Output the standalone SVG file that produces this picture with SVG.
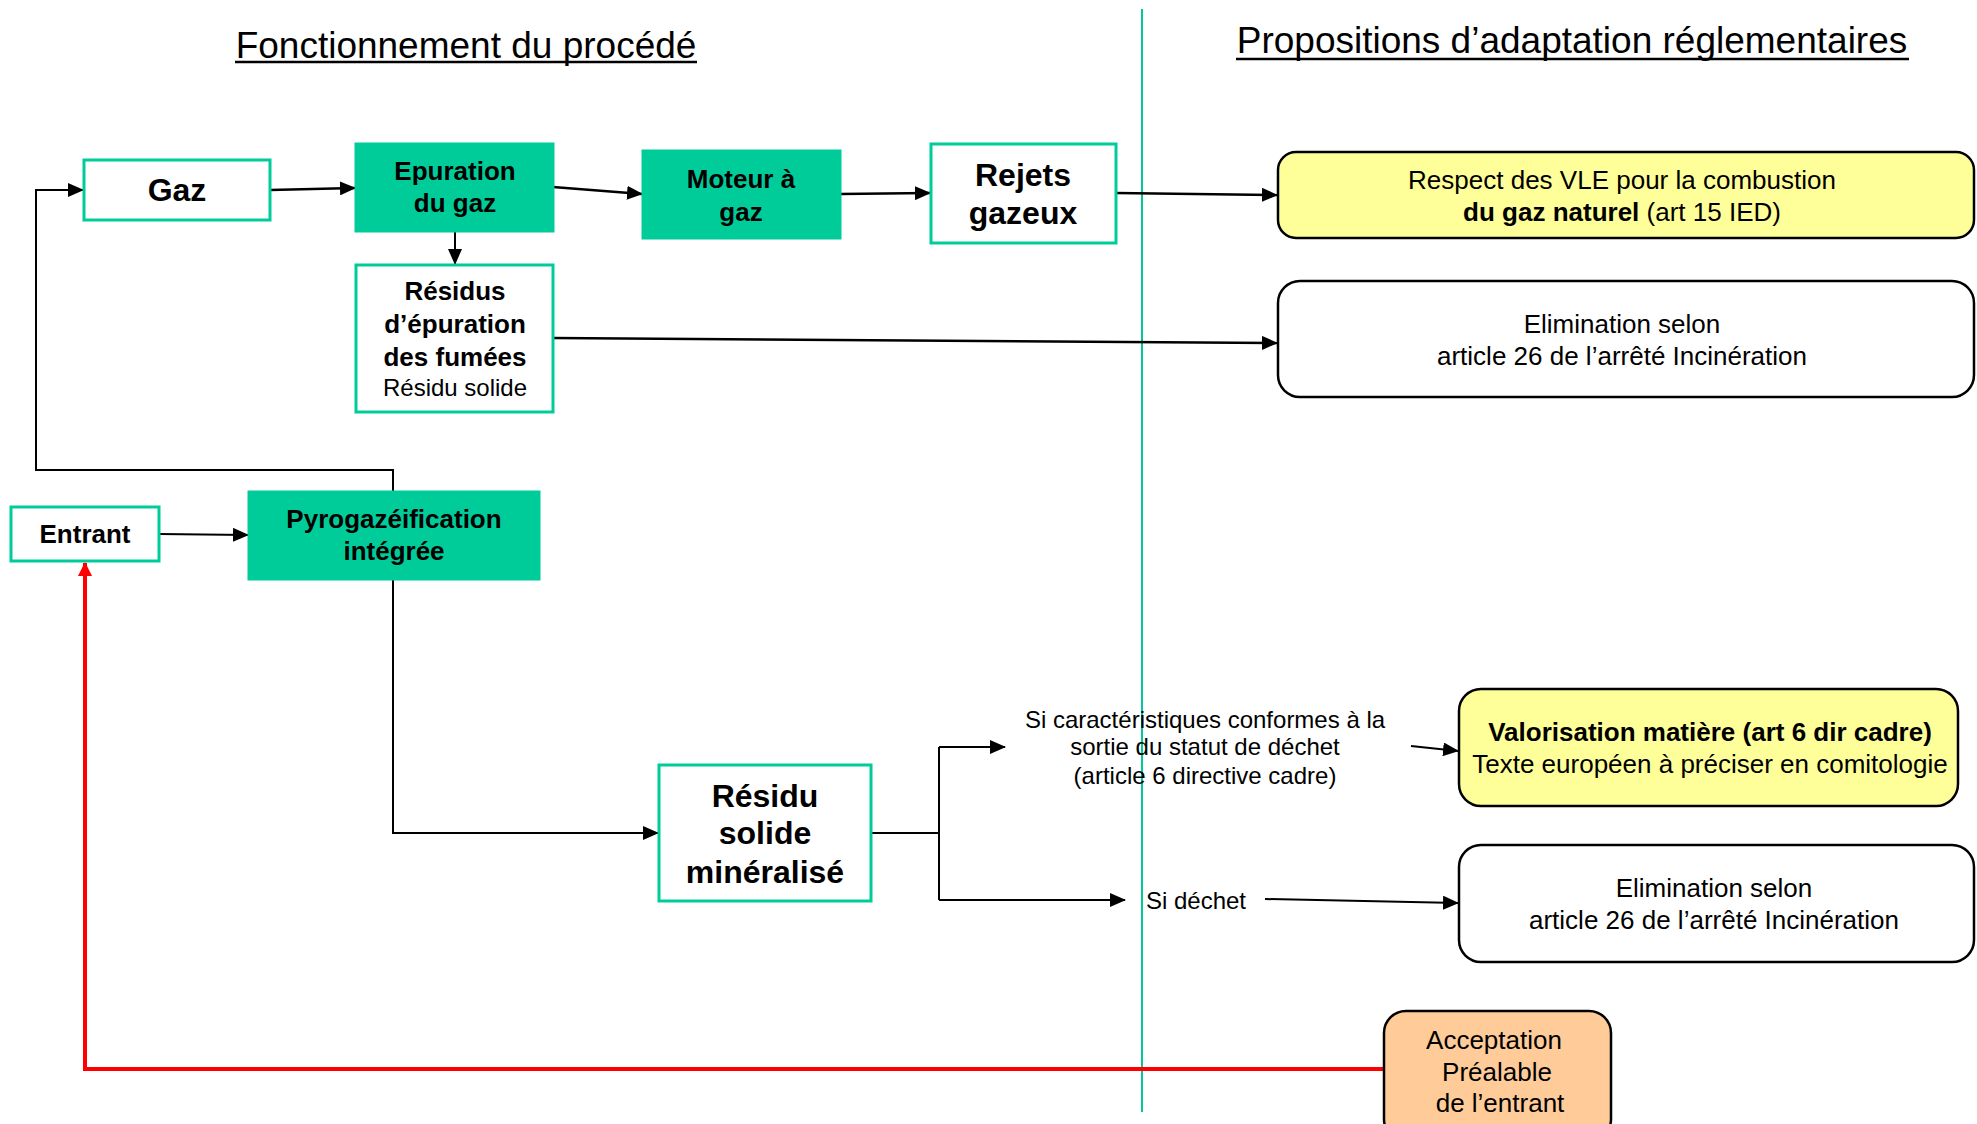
<svg xmlns="http://www.w3.org/2000/svg" width="1977" height="1124" viewBox="0 0 1977 1124">
  <defs>
    <marker id="arr" markerUnits="userSpaceOnUse" markerWidth="16" markerHeight="14" refX="15" refY="7" orient="auto">
      <path d="M0,0 L16,7 L0,14 Z" fill="#000"/>
    </marker>
    <marker id="arrRed" markerUnits="userSpaceOnUse" markerWidth="14" markerHeight="16" refX="13" refY="7" orient="auto">
      <path d="M0,0 L14,7 L0,14 Z" fill="#ff0000"/>
    </marker>
  </defs>
  <style>
    text { font-family: "Liberation Sans", Arial, sans-serif; fill: #000; text-anchor: middle; }
    .title { font-size: 37px; }
    .b26 { font-size: 26px; font-weight: bold; }
    .b32 { font-size: 32px; font-weight: bold; }
    .r26 { font-size: 26px; }
    .r24 { font-size: 24px; }
    .proc { fill: #00cc99; stroke: #00cc99; stroke-width: 3; }
    .out { fill: #fff; stroke: #00cc99; stroke-width: 3; }
    .prop { stroke: #000; stroke-width: 2.5; }
    .conn { fill: none; stroke: #000; stroke-width: 2.5; }
    .thin { fill: none; stroke: #000; stroke-width: 2; }
  </style>

  <rect width="1977" height="1124" fill="#fff"/>

  <!-- section headings -->
  <g id="heading-left">
    <text class="title" x="466" y="58">Fonctionnement du procédé</text>
    <line x1="235" y1="62" x2="697" y2="62" stroke="#000" stroke-width="2.5"/>
  </g>
  <g id="heading-right">
    <text class="title" x="1572" y="53">Propositions d’adaptation réglementaires</text>
    <line x1="1236" y1="59" x2="1909" y2="59" stroke="#000" stroke-width="2.5"/>
  </g>

  <!-- divider between the two halves -->
  <line id="divider" x1="1142" y1="9" x2="1142" y2="1112" stroke="#00c896" stroke-width="2"/>

  <!-- connectors -->
  <g id="connectors">
    <line class="conn" x1="270" y1="190" x2="355" y2="188" marker-end="url(#arr)"/>
    <line class="conn" x1="553" y1="187" x2="642" y2="194" marker-end="url(#arr)"/>
    <line class="conn" x1="840" y1="194" x2="930" y2="193" marker-end="url(#arr)"/>
    <line class="conn" x1="1116" y1="193" x2="1277" y2="195" marker-end="url(#arr)"/>
    <line class="thin" x1="455" y1="231" x2="455" y2="264" marker-end="url(#arr)"/>
    <line class="conn" x1="553" y1="338" x2="1277" y2="343" marker-end="url(#arr)"/>
    <!-- gas recycle loop from the pyrogasifier back to Gaz -->
    <polyline class="thin" points="393,492 393,470 36,470 36,190 83,190" marker-end="url(#arr)"/>
    <line class="thin" x1="159" y1="534" x2="248" y2="535" marker-end="url(#arr)"/>
    <polyline class="thin" points="393,579 393,833 658,833" marker-end="url(#arr)"/>
    <!-- solid residue branches -->
    <line class="thin" x1="871" y1="833" x2="939" y2="833"/>
    <line class="thin" x1="939" y1="747" x2="939" y2="900"/>
    <line class="thin" x1="939" y1="747" x2="1005" y2="747" marker-end="url(#arr)"/>
    <line class="thin" x1="939" y1="900" x2="1125" y2="900" marker-end="url(#arr)"/>
    <line class="thin" x1="1411" y1="746" x2="1458" y2="751" marker-end="url(#arr)"/>
    <line class="thin" x1="1265" y1="899" x2="1458" y2="903" marker-end="url(#arr)"/>
    <!-- prior acceptance feedback -->
    <polyline points="1384,1069 85,1069 85,563" fill="none" stroke="#ff0000" stroke-width="4" marker-end="url(#arrRed)"/>
  </g>

  <!-- process nodes -->
  <g id="gaz">
    <rect class="out" x="84" y="160" width="186" height="60"/>
    <text class="b32" x="177" y="201">Gaz</text>
  </g>
  <g id="epuration">
    <rect class="proc" x="356" y="144" width="197" height="87"/>
    <text class="b26" x="455" y="180">Epuration</text>
    <text class="b26" x="455" y="212">du gaz</text>
  </g>
  <g id="moteur">
    <rect class="proc" x="643" y="151" width="197" height="87"/>
    <text class="b26" x="741" y="188">Moteur à</text>
    <text class="b26" x="741" y="221">gaz</text>
  </g>
  <g id="rejets">
    <rect class="out" x="931" y="144" width="185" height="99"/>
    <text class="b32" x="1023" y="186">Rejets</text>
    <text class="b32" x="1023" y="224">gazeux</text>
  </g>
  <g id="residus-epuration">
    <rect class="out" x="356" y="265" width="197" height="147"/>
    <text class="b26" x="455" y="300">Résidus</text>
    <text class="b26" x="455" y="333">d’épuration</text>
    <text class="b26" x="455" y="366">des fumées</text>
    <text class="r24" x="455" y="396">Résidu solide</text>
  </g>
  <g id="entrant">
    <rect class="out" x="11" y="507" width="148" height="54"/>
    <text class="b26" x="85" y="543">Entrant</text>
  </g>
  <g id="pyrogazeification">
    <rect class="proc" x="249" y="492" width="290" height="87"/>
    <text class="b26" x="394" y="528">Pyrogazéification</text>
    <text class="b26" x="394" y="560">intégrée</text>
  </g>
  <g id="residu-mineralise">
    <rect class="out" x="659" y="765" width="212" height="136"/>
    <text class="b32" x="765" y="807">Résidu</text>
    <text class="b32" x="765" y="844">solide</text>
    <text class="b32" x="765" y="883">minéralisé</text>
  </g>

  <!-- branch conditions -->
  <g id="cond-conforme">
    <text class="r24" x="1205" y="728">Si caractéristiques conformes à la</text>
    <text class="r24" x="1205" y="755">sortie du statut de déchet</text>
    <text class="r24" x="1205" y="784">(article 6 directive cadre)</text>
  </g>
  <g id="cond-dechet">
    <text class="r24" x="1196" y="909">Si déchet</text>
  </g>

  <!-- regulatory proposals -->
  <g id="respect-vle">
    <rect class="prop" x="1278" y="152" width="696" height="86" rx="18" fill="#ffff99"/>
    <text class="r26" x="1622" y="189">Respect des VLE pour la combustion</text>
    <text class="r26" x="1622" y="221"><tspan font-weight="bold">du gaz naturel</tspan> (art 15 IED)</text>
  </g>
  <g id="elimination-1">
    <rect class="prop" x="1278" y="281" width="696" height="116" rx="22" fill="#fff"/>
    <text class="r26" x="1622" y="333">Elimination selon</text>
    <text class="r26" x="1622" y="365">article 26 de l’arrêté Incinération</text>
  </g>
  <g id="valorisation">
    <rect class="prop" x="1459" y="689" width="499" height="117" rx="22" fill="#ffff99"/>
    <text class="b26" x="1710" y="741">Valorisation matière (art 6 dir cadre)</text>
    <text class="r26" x="1710" y="773">Texte européen à préciser en comitologie</text>
  </g>
  <g id="elimination-2">
    <rect class="prop" x="1459" y="845" width="515" height="117" rx="22" fill="#fff"/>
    <text class="r26" x="1714" y="897">Elimination selon</text>
    <text class="r26" x="1714" y="929">article 26 de l’arrêté Incinération</text>
  </g>
  <g id="acceptation">
    <rect class="prop" x="1384" y="1011" width="227" height="130" rx="22" fill="#ffcc99"/>
    <text class="r26" x="1494" y="1049">Acceptation</text>
    <text class="r26" x="1497" y="1081">Préalable</text>
    <text class="r26" x="1500" y="1112">de l’entrant</text>
  </g>
</svg>
